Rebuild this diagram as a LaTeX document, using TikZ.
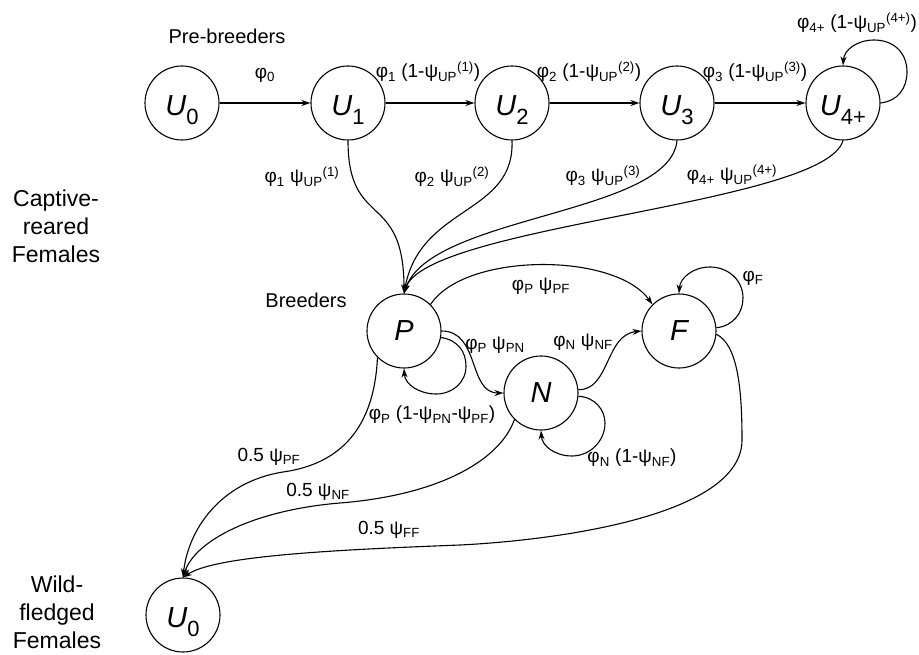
\documentclass[tikz,border=0pt]{standalone}
\usepackage{fontspec}
\setmainfont{Liberation Sans}
\usetikzlibrary{arrows.meta}
\newcommand\Nsbx[1]{\raisebox{-0.3em}{\upshape\fontsize{22}{22}\selectfont#1}}
\newcommand\Sbx[1]{\textsubscript{#1}}
\newcommand\Spx[1]{\textsuperscript{#1}}
\begin{document}
\begin{tikzpicture}[x=1pt,y=-1pt,
  state/.style={circle,draw,line width=1.1pt,minimum size=74pt,inner sep=0pt,
    font=\fontsize{29}{34}\selectfont\itshape},
  substate/.style={state,text height=25pt,text depth=0pt},
  lbl/.style={font=\fontsize{19}{22}\selectfont,inner sep=0pt},
  grp/.style={font=\fontsize{20}{24}\selectfont,inner sep=0pt},
  side/.style={font=\fontsize{23}{28}\selectfont,align=center,inner sep=0pt},
  link/.style={line width=1.1pt,-{Stealth[length=9pt,width=6pt]}}
]
\useasboundingbox (0,0) rectangle (919,655);

% states
\node[substate] (U0t) at (182,103) {U\Nsbx{0}};
\node[substate] (U1)  at (348,103) {U\Nsbx{1}};
\node[substate] (U2)  at (512,103) {U\Nsbx{2}};
\node[substate] (U3)  at (677,103) {U\Nsbx{3}};
\node[substate] (U4)  at (843,103) {U\Nsbx{4+}};
\node[state] (P) at (404,331) {P};
\node[state] (F) at (679,331) {F};
\node[state] (N) at (541,393) {N};
\node[substate] (U0b) at (183,615) {U\Nsbx{0}};

% group texts
\node[grp] (tpre) at (227,36) {Pre-breeders};
\node[grp] (tbre) at (306,300) {Breeders};
\node[side] (tcap) at (56,226) {Captive-\\reared\\Females};
\node[side] (twild) at (57,612) {Wild-\\fledged\\Females};

% chain
\draw[link] (U0t) -- (U1);
\draw[link] (U1) -- (U2);
\draw[link] (U2) -- (U3);
\draw[link] (U3) -- (U4);
\draw[link] (U4.east) .. controls (898,101) and (907,88) .. (907,72)
  .. controls (907,52) and (893,40) .. (874,40)
  .. controls (857,40) and (844,50) .. (U4.north);

% to P
\draw[link] (U1.south) .. controls (348,230) and (404,190) .. (P.north);
\draw[link] (U2.south) .. controls (515,215) and (420,205) .. (P.north);
\draw[link] (U3.south) .. controls (670,215) and (430,215) .. (P.north);
\draw[link] (U4.south) .. controls (825,205) and (425,225) .. (P.north);

% breeders
\draw[link] (P.45) .. controls (465,252) and (615,252) .. (F.135);
\draw[link] (P.east) .. controls (480,331) and (468,393) .. (N.west);
\draw[link] (P.-10) .. controls (458,340) and (466,352) .. (466,366)
  .. controls (466,383) and (452,394) .. (436,394)
  .. controls (420,394) and (405,385) .. (P.south);
\draw[link] (N.5) .. controls (610,390) and (605,335) .. (F.west);
\draw[link] (N.-5) .. controls (595,397) and (605,410) .. (605,423)
  .. controls (605,441) and (590,456) .. (572,456)
  .. controls (555,456) and (542,446) .. (N.south);
\draw[link] (F.5) .. controls (733,326) and (743,313) .. (743,298)
  .. controls (743,280) and (728,267) .. (710,267)
  .. controls (693,267) and (680,278) .. (F.north);

% to wild-fledged
\draw[link] (F.-5) .. controls (738,345) and (742,390) .. (742,440)
  .. controls (742,515) and (560,540) .. (460,545)
  .. controls (330,550) and (215,556) .. (U0b.north);
\draw[link] (N.225) .. controls (500,460) and (440,495) .. (340,503)
  .. controls (255,510) and (195,540) .. (U0b.north);
\draw[link] (P.225) .. controls (375,410) and (355,462) .. (283,472)
  .. controls (220,482) and (188,530) .. (U0b.north);

% labels
\node[lbl] (l0) at (265,75) {φ\Sbx{0}};
\node[lbl] (l1) at (428,72) {φ\Sbx{1} (1-ψ\Sbx{UP}\Spx{(1)})};
\node[lbl] (l2) at (589,72) {φ\Sbx{2} (1-ψ\Sbx{UP}\Spx{(2)})};
\node[lbl] (l3) at (755,72) {φ\Sbx{3} (1-ψ\Sbx{UP}\Spx{(3)})};
\node[lbl] (l4) at (857,23) {φ\Sbx{4+} (1-ψ\Sbx{UP}\Spx{(4+)})};
\node[lbl] (m1) at (302,177) {φ\Sbx{1} ψ\Sbx{UP}\Spx{(1)}};
\node[lbl] (m2) at (452,177) {φ\Sbx{2} ψ\Sbx{UP}\Spx{(2)}};
\node[lbl] (m3) at (603,176) {φ\Sbx{3} ψ\Sbx{UP}\Spx{(3)}};
\node[lbl] (m4) at (732,175) {φ\Sbx{4+} ψ\Sbx{UP}\Spx{(4+)}};
\node[lbl] (lpf) at (541,286) {φ\Sbx{P} ψ\Sbx{PF}};
\node[lbl] (lpn) at (495,345) {φ\Sbx{P} ψ\Sbx{PN}};
\node[lbl] (lnf) at (583,342) {φ\Sbx{N} ψ\Sbx{NF}};
\node[lbl] (lpp) at (432,415) {φ\Sbx{P} (1-ψ\Sbx{PN}-ψ\Sbx{PF})};
\node[lbl] (lnn) at (632,458) {φ\Sbx{N} (1-ψ\Sbx{NF})};
\node[lbl] (lff) at (753,278) {φ\Sbx{F}};
\node[lbl] (w1) at (269,457) {0.5 ψ\Sbx{PF}};
\node[lbl] (w2) at (318,492) {0.5 ψ\Sbx{NF}};
\node[lbl] (w3) at (389,530) {0.5 ψ\Sbx{FF}};
\end{tikzpicture}
\end{document}
